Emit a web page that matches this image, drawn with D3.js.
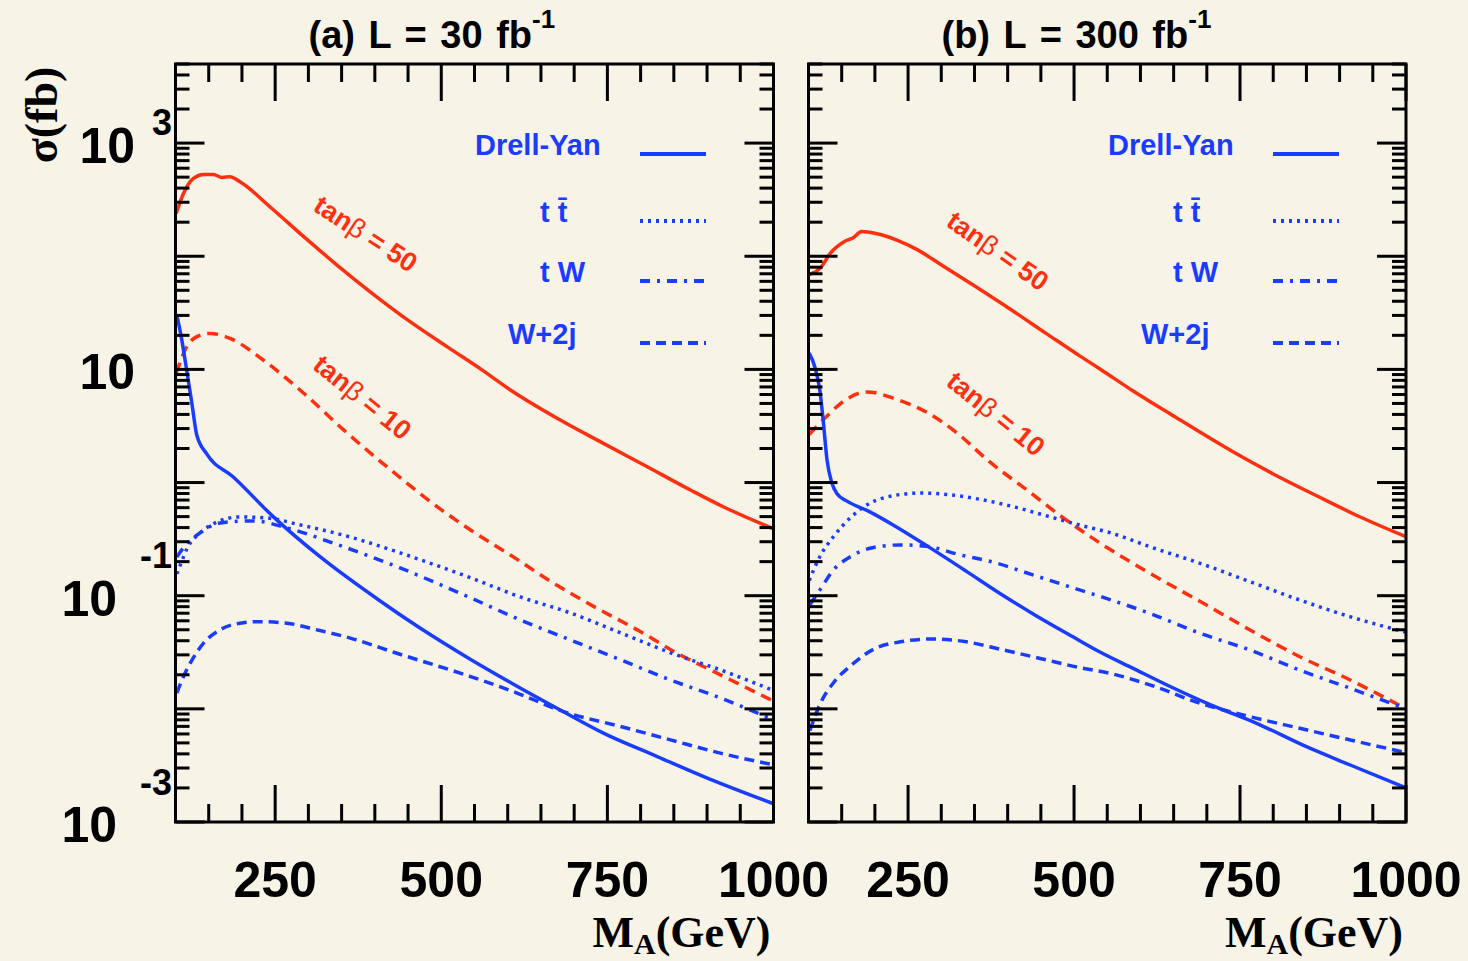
<!DOCTYPE html>
<html>
<head>
<meta charset="utf-8">
<script src="https://cdn.jsdelivr.net/npm/d3@7"></script>
<style>
  body { margin: 0; background: #f7f3e7; }
  svg { display: block; }
  text { font-family: "Liberation Sans", Arial, Helvetica, sans-serif; font-weight: bold; }
  .serif { font-family: "Liberation Serif", "Times New Roman", serif; }
</style>
</head>
<body>
<svg id="chart"></svg>
<script>
// cross sections sigma (fb) against M_A (GeV), as [M_A, sigma] pairs

// panel (a), L = 30 fb-1
const tanb50A = [[101,239],[112,359],[127,488],[142,528],[157,528],[170,497],[182,504],[197,455],[242,274],[293,149],[343,83.6],[393,48.5],[453,26.4],[509,15.8],[559,10.1],[604,6.58],[679,3.57],[744,2.22],[805,1.43],[875,0.859],[925,0.608],[1000,0.39]];
const tanb10A = [[101,9.23],[117,15.9],[132,19.5],[152,20.8],[182,18.8],[232,12.1],[293,6.15],[353,2.92],[418,1.38],[509,0.527],[544,0.381],[604,0.229],[669,0.129],[734,0.0776],[795,0.0499],[855,0.031],[915,0.0207],[1000,0.0117]];
const drellYanA = [[102,30.2],[109,18.9],[117,9.68],[125,4.85],[132,2.63],[147,1.79],[187,1.12],[247,0.50],[318,0.220],[408,0.0898],[468,0.0518],[543,0.0276],[608,0.0166],[679,0.00977],[744,0.0061],[825,0.00379],[895,0.00252],[1000,0.00145]];
const ttbarA = [[102,0.156],[109,0.199],[117,0.259],[137,0.359],[163,0.449],[197,0.497],[238,0.486],[288,0.422],[363,0.330],[438,0.239],[544,0.144],[619,0.0975],[694,0.0705],[770,0.0469],[845,0.0313],[920,0.0221],[1000,0.0145]];
const tWA = [[102,0.220],[114,0.275],[137,0.359],[167,0.440],[217,0.458],[268,0.397],[337,0.292],[438,0.176],[544,0.0957],[619,0.0611],[694,0.0407],[770,0.0271],[845,0.018],[920,0.0125],[1000,0.0080]];
const w2jA = [[102,0.0138],[112,0.0193],[125,0.0271],[142,0.038],[167,0.0499],[197,0.0571],[227,0.059],[268,0.0571],[313,0.0499],[363,0.0422],[433,0.031],[544,0.0193],[614,0.0138],[684,0.00946],[770,0.00698],[845,0.00532],[920,0.00406],[1000,0.0032]];

// panel (b), L = 300 fb-1
const tanb50B = [[101,69.0],[118,78.9],[133,106.7],[153,133.7],[168,146.5],[180,165.2],[203,158.0],[233,139.0],[263,115.0],[298,85.4],[348,55.7],[399,35.6],[459,20.6],[509,13.1],[539,10.1],[589,6.44],[650,3.87],[740,1.86],[800,1.19],[866,0.760],[931,0.496],[1000,0.332]];
const tanb10B = [[101,2.66],[128,3.88],[153,5.24],[188,6.32],[233,5.43],[278,4.18],[323,2.76],[373,1.52],[429,0.859],[484,0.486],[539,0.292],[614,0.158],[690,0.0889],[765,0.0498],[840,0.0289],[916,0.0180],[1000,0.0100]];
const drellYanB = [[101,13.9],[110,10.3],[117,6.56],[122,3.60],[128,1.57],[135,0.998],[143,0.796],[158,0.685],[188,0.567],[228,0.420],[278,0.277],[338,0.164],[389,0.104],[439,0.0687],[499,0.0431],[539,0.0318],[589,0.0228],[640,0.01625],[705,0.0109],[775,0.00745],[850,0.00463],[916,0.00319],[1000,0.00200]];
const ttbarB = [[101,0.136],[117,0.221],[138,0.335],[163,0.488],[193,0.659],[228,0.766],[268,0.807],[308,0.785],[358,0.711],[409,0.611],[459,0.507],[509,0.420],[554,0.361],[614,0.271],[690,0.193],[765,0.133],[840,0.0916],[916,0.0652],[1000,0.0475]];
const tWB = [[102,0.083],[117,0.112],[138,0.170],[163,0.221],[198,0.267],[238,0.281],[278,0.273],[328,0.230],[378,0.198],[439,0.152],[499,0.117],[544,0.0966],[614,0.0698],[690,0.0465],[765,0.0331],[840,0.0220],[916,0.0152],[1000,0.0100]];
const w2jB = [[102,0.00641],[117,0.0109],[138,0.0171],[163,0.0239],[198,0.0336],[238,0.0391],[288,0.0415],[338,0.0391],[389,0.0336],[449,0.0279],[509,0.0231],[554,0.0206],[614,0.0163],[690,0.0112],[765,0.00853],[840,0.00673],[916,0.00531],[1000,0.00410]];

// labels
const panelTitles = ["(a) L = 30 fb", "(b) L = 300 fb"];
const xTickLabels = [250, 500, 750, 1000];
const yTickLabels = [1e3, 10, 1e-1, 1e-3];
const yTickExps = ["3", "", "-1", "-3"];
const legendLabels = ["Drell-Yan", "t t\u0304", "t W", "W+2j"];
const tanbValues = ["50", "10"];
// where the tan(beta) labels sit, [M_A, sigma] per panel
const tanbSpotsA = [[386, 157], [381, 5.65]];
const tanbSpotsB = [[385, 111], [382, 4.04]];

const BLUE = "#1a3cff", RED = "#ff3010";
const W = 1468, H = 961;
const plotTop = 64, plotBottom = 822;

const styles = {
  dy:  {color: BLUE, dash: null},
  tt:  {color: BLUE, dash: "3,5"},
  tw:  {color: BLUE, dash: "10,7,3,7"},
  w2j: {color: BLUE, dash: "10,6"},
  t50: {color: RED, dash: null},
  t10: {color: RED, dash: "11,7"}
};
const legendKeys = ["dy", "tt", "tw", "w2j"];
const legendRowY = [154, 221, 281, 343];
const legendLabelDx = [299.5, 364.5, 364.5, 332.5];
const tanbAngles = [[33, 39], [35, 39]];

const panels = [
  {left: 175.5, right: 773.5, title: panelTitles[0], yLabels: true, spots: tanbSpotsA, angles: tanbAngles[0],
   series: [["t50", tanb50A], ["t10", tanb10A], ["w2j", w2jA], ["tw", tWA], ["tt", ttbarA], ["dy", drellYanA]]},
  {left: 808.5, right: 1406, title: panelTitles[1], yLabels: false, spots: tanbSpotsB, angles: tanbAngles[1],
   series: [["t50", tanb50B], ["t10", tanb10B], ["w2j", w2jB], ["tw", tWB], ["tt", ttbarB], ["dy", drellYanB]]}
];

const svg = d3.select("#chart").attr("width", W).attr("height", H);
svg.append("rect").attr("width", W).attr("height", H).attr("fill", "#f7f3e7");

const y = d3.scaleLog().domain([1e-3, 5e3]).range([plotBottom, plotTop]);

// tick values
const yMajor = d3.range(-3, 4).map(k => Math.pow(10, k));
const yMinor = [];
for (let k = -3; k <= 3; k++)
  for (let m = 2; m <= 9; m++)
    if (m * Math.pow(10, k) <= 5000) yMinor.push(m * Math.pow(10, k));
const xMajor = [250, 500, 750, 1000];
const xMinor = d3.range(150, 1000, 50).filter(v => !xMajor.includes(v));

panels.forEach(p => {
  const x = d3.scaleLinear().domain([100, 1000]).range([p.left, p.right]);
  const g = svg.append("g");

  // curves
  const line = d3.line().x(d => x(d[0])).y(d => y(d[1])).curve(d3.curveMonotoneX);
  p.series.forEach(([key, data]) => {
    g.append("path")
      .datum(data)
      .attr("fill", "none")
      .attr("stroke", styles[key].color)
      .attr("stroke-width", 3.5)
      .attr("stroke-dasharray", styles[key].dash)
      .attr("d", line);
  });

  // frame and ticks on all four sides
  const ax = g.append("g").attr("stroke", "#000").attr("stroke-width", 3);
  ax.append("rect")
    .attr("x", p.left).attr("y", plotTop)
    .attr("width", p.right - p.left).attr("height", plotBottom - plotTop)
    .attr("fill", "none");

  const xt = xMajor.map(v => [v, 37]).concat(xMinor.map(v => [v, 18]));
  xt.forEach(([v, len]) => {
    ax.append("line").attr("x1", x(v)).attr("x2", x(v)).attr("y1", plotBottom).attr("y2", plotBottom - len);
    ax.append("line").attr("x1", x(v)).attr("x2", x(v)).attr("y1", plotTop).attr("y2", plotTop + len);
  });
  const yt = yMajor.map(v => [v, 29]).concat(yMinor.map(v => [v, 14]));
  yt.forEach(([v, len]) => {
    ax.append("line").attr("y1", y(v)).attr("y2", y(v)).attr("x1", p.left).attr("x2", p.left + len);
    ax.append("line").attr("y1", y(v)).attr("y2", y(v)).attr("x1", p.right).attr("x2", p.right - len);
  });

  // x tick labels
  g.selectAll(".xl").data(xTickLabels).enter().append("text")
    .attr("x", d => x(d)).attr("y", 897)
    .attr("text-anchor", "middle").attr("font-size", 50)
    .text(d => d);

  // y tick labels, ROOT style 10 + exponent
  if (p.yLabels) {
    yTickLabels.forEach((v, i) => {
      const e = yTickExps[i];
      const neg = e.startsWith("-");
      g.append("text")
        .attr("x", neg ? p.left - 58.5 : p.left - 40.5).attr("y", y(v) + 20)
        .attr("text-anchor", "end").attr("font-size", 50).text("10");
      if (e) {
        g.append("text")
          .attr("x", neg ? p.left - 3.5 : p.left - 23.5)
          .attr("y", neg ? y(v) - 27.5 : y(v) - 8)
          .attr("text-anchor", neg ? "end" : "start")
          .attr("font-size", 36).text(e);
      }
    });
  }

  // title
  const t = g.append("text").attr("x", p.left + 133).attr("y", 48)
    .attr("font-size", 38).attr("word-spacing", 3).text(p.title);
  t.append("tspan").attr("dy", -20).attr("font-size", 26).attr("word-spacing", 0).text("-1");

  // x axis title
  const xt2 = g.append("text").attr("class", "serif")
    .attr("x", p.right - 3).attr("y", 947).attr("text-anchor", "end").attr("font-size", 44);
  xt2.append("tspan").text("M");
  xt2.append("tspan").attr("dy", 7).attr("font-size", 30).text("A");
  xt2.append("tspan").attr("dy", -7).text("(GeV)");

  // legend
  legendKeys.forEach((key, i) => {
    g.append("line")
      .attr("x1", p.left + 464.5).attr("x2", p.left + 530.5)
      .attr("y1", legendRowY[i]).attr("y2", legendRowY[i])
      .attr("stroke", styles[key].color).attr("stroke-width", 4)
      .attr("stroke-dasharray", styles[key].dash);
    g.append("text")
      .attr("x", p.left + legendLabelDx[i]).attr("y", legendRowY[i] + 1)
      .attr("fill", BLUE).attr("font-size", 29)
      .text(legendLabels[i]);
  });

  // tan(beta) labels along the red curves
  tanbValues.forEach((val, i) => {
    const [m, s] = p.spots[i];
    const lab = g.append("text")
      .attr("transform", `translate(${x(m)},${y(s)}) rotate(${p.angles[i]})`)
      .attr("text-anchor", "middle").attr("dominant-baseline", "central")
      .attr("fill", RED).attr("font-size", 27);
    lab.append("tspan").text("tan");
    lab.append("tspan").attr("font-weight", "normal").text("\u03b2");
    lab.append("tspan").text(" = " + val);
  });
});

// y axis title
svg.append("text").attr("class", "serif")
  .attr("transform", "translate(41,115) rotate(-90)")
  .attr("text-anchor", "middle").attr("dominant-baseline", "central")
  .attr("font-size", 46)
  .text("\u03c3(fb)");
</script>
</body>
</html>
